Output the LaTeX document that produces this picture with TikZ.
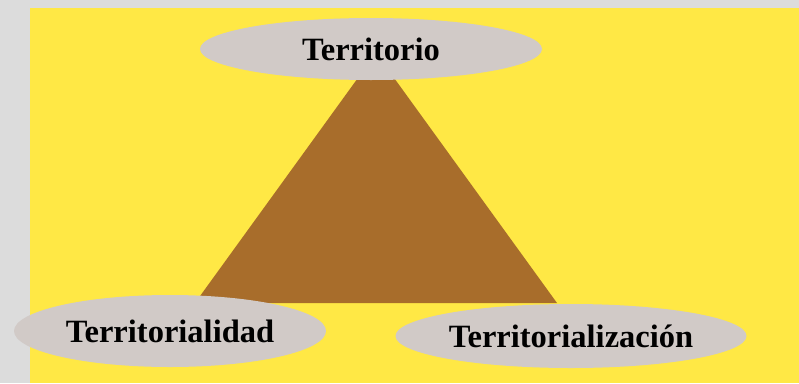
\documentclass[tikz,border=0pt]{standalone}
\usepackage{fontspec}
\setmainfont{Liberation Serif}
\usetikzlibrary{shapes.geometric}
\definecolor{fondo}{HTML}{DCDCDC}
\definecolor{amarillo}{HTML}{FFE845}
\definecolor{cafe}{HTML}{A86D2B}
\definecolor{gris}{HTML}{D1CAC7}
\tikzset{elipse/.style={ellipse, fill=gris, inner sep=0pt, text depth=0pt, font=\fontsize{32.5}{32.5}\selectfont\bfseries}}

\begin{document}
\begin{tikzpicture}[x=1pt,y=-1pt]
	%%%%% FONDO %%%%%
	\fill[fondo] (0,0) rectangle (799,383);
	\useasboundingbox (0,0) rectangle (799,383);
	\fill[amarillo] (30,8) rectangle (799,383);
	
	%%%%% TRIANGULO %%%%%
	\fill[cafe] (195,303) -- (376,53) -- (557,303) -- cycle;
	
	%%%%% ELIPSES %%%%%
	\node[elipse, minimum width=342pt, minimum height=62pt] (territorio) at (371,49) {Territorio};
	\node[elipse, minimum width=312pt, minimum height=72pt] (territorialidad) at (170,331) {Territorialidad};
	\node[elipse, minimum width=351pt, minimum height=64pt] (territorializacion) at (571,336) {Territorialización};
\end{tikzpicture}
\end{document}
